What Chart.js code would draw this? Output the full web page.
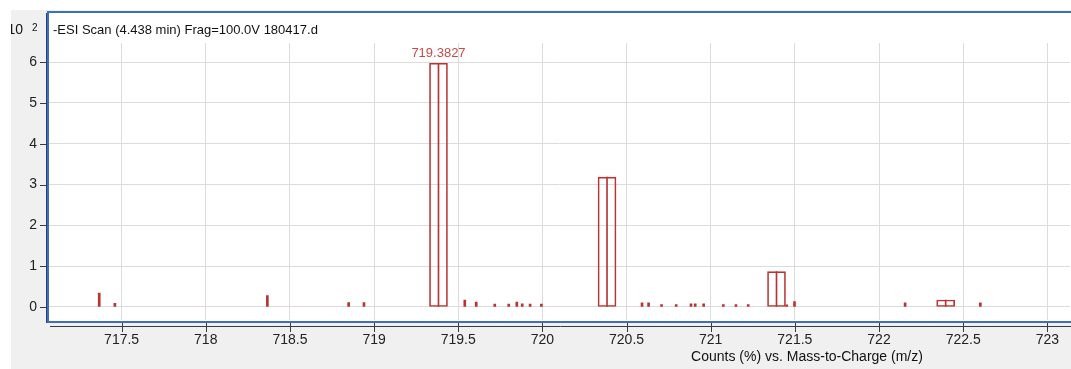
<!DOCTYPE html>
<html>
<head>
<meta charset="utf-8">
<script src="https://cdn.jsdelivr.net/npm/chart.js@4.4.1/dist/chart.umd.min.js"></script>
<style>
  html, body { margin: 0; padding: 0; background: #fff; }
  #wrap { width: 1071px; height: 369px; position: relative; }
</style>
</head>
<body>
<div id="wrap"><canvas id="spectrum"></canvas></div>
<script>
// Spectrum data - m/z and counts (x10^2)
const boxMz = [719.3827, 720.384, 721.391, 722.396];
const boxCounts = [5.97, 3.18, 0.865, 0.17];

const stickMz = [717.367, 717.46, 718.366, 718.849, 718.94, 719.539, 719.607, 719.717, 719.800,
                 719.848, 719.880, 719.927, 719.994, 720.592, 720.631, 720.708, 720.795, 720.883,
                 720.908, 720.958, 721.075, 721.150, 721.223, 721.452, 721.498, 722.155, 722.602];
const stickCounts = [0.34, 0.09, 0.28, 0.11, 0.11, 0.17, 0.12, 0.07, 0.07,
                     0.12, 0.08, 0.07, 0.07, 0.10, 0.10, 0.06, 0.06, 0.08,
                     0.08, 0.08, 0.06, 0.06, 0.06, 0.05, 0.13, 0.10, 0.10];

const xTickValues = [717.5, 718, 718.5, 719, 719.5, 720, 720.5, 721, 721.5, 722, 722.5, 723];
const xTickLabels = ['717.5', '718', '718.5', '719', '719.5', '720', '720.5', '721', '721.5', '722', '722.5', '723'];
const yTickValues = [0, 1, 2, 3, 4, 5, 6];
const yTickLabels = ['0', '1', '2', '3', '4', '5', '6'];

const peakLabelMz = [719.3827];
const peakLabelCounts = [5.97];
const peakLabelText = ['719.3827'];

const scanTitle = '-ESI Scan (4.438 min) Frag=100.0V 180417.d';
const xAxisTitle = 'Counts (%) vs. Mass-to-Charge (m/z)';
const yScaleText = 'x10';
const yScaleExp = '2';

const RED = '#b83434';
const FONT = "'Liberation Sans', Arial, sans-serif";

// Frame, axes and texts around the plot
const frame = {
    id: 'frame',
    beforeDraw(chart) {
        const ctx = chart.ctx, a = chart.chartArea, w = chart.width, h = chart.height;
        ctx.save();
        ctx.fillStyle = '#ffffff';
        ctx.fillRect(0, 0, w, h);
        ctx.fillStyle = '#f0f0f0';
        ctx.fillRect(11, 10, w - 11, h - 10);
        ctx.fillStyle = '#ffffff';
        ctx.fillRect(a.left, a.top - 30, w - a.left, a.bottom + 2 - (a.top - 30));
        ctx.restore();
    },
    afterDraw(chart) {
        const ctx = chart.ctx, a = chart.chartArea, w = chart.width;
        const xs = chart.scales.x, ys = chart.scales.y;
        ctx.save();
        // blue frame
        ctx.fillStyle = '#3f6fb6';
        ctx.fillRect(a.left - 2, a.top - 32, w - a.left + 2, 2);
        ctx.fillRect(a.left - 2, a.top - 32, 2, a.bottom + 3 - (a.top - 32));
        ctx.fillRect(a.left - 2, a.bottom + 1, w - a.left + 2, 2);
        ctx.fillStyle = '#23447a';
        ctx.fillRect(a.left - 3, a.top - 30, 1, a.bottom + 3 - (a.top - 30));
        // axis lines and tick marks
        ctx.strokeStyle = '#3a3a3a';
        ctx.lineWidth = 1;
        ctx.beginPath();
        ctx.moveTo(a.left + 1, a.bottom + 6.5);
        ctx.lineTo(w, a.bottom + 6.5);
        xs.ticks.forEach((t, i) => {
            const px = Math.round(xs.getPixelForTick(i)) + 0.5;
            ctx.moveTo(px, a.bottom + 3);
            ctx.lineTo(px, a.bottom + 12);
        });
        ys.ticks.forEach((t, i) => {
            const py = Math.round(ys.getPixelForTick(i)) + 0.5;
            ctx.moveTo(a.left - 9, py);
            ctx.lineTo(a.left - 2, py);
        });
        ctx.stroke();
        // texts
        ctx.fillStyle = '#111';
        ctx.textBaseline = 'middle';
        ctx.font = '13px ' + FONT;
        ctx.textAlign = 'left';
        ctx.fillText(scanTitle, a.left + 4, a.top - 13);
        ctx.font = '14px ' + FONT;
        ctx.textAlign = 'center';
        ctx.fillText(xAxisTitle, 807, 357);
        ctx.save();
        ctx.beginPath();
        ctx.rect(11, 10, a.left - 13, 40);
        ctx.clip();
        ctx.textAlign = 'right';
        ctx.fillText(yScaleText, 23, 30);
        ctx.font = '10px ' + FONT;
        ctx.textAlign = 'left';
        ctx.fillText(yScaleExp, 32, 28);
        ctx.restore();
        // peak labels
        ctx.fillStyle = '#c84a4a';
        ctx.font = '13px ' + FONT;
        ctx.textAlign = 'center';
        ctx.textBaseline = 'bottom';
        peakLabelMz.forEach((mz, i) => {
            ctx.fillText(peakLabelText[i], xs.getPixelForValue(mz), ys.getPixelForValue(peakLabelCounts[i]) - 3);
        });
        ctx.restore();
    }
};

const toPoints = (xv, yv) => xv.map((v, i) => ({x: v, y: yv[i]}));

new Chart(document.getElementById('spectrum'), {
    type: 'bar',
    data: {
        datasets: [{
            label: 'boxes',
            data: toPoints(boxMz, boxCounts),
            backgroundColor: 'rgba(255,255,255,0)',
            borderColor: RED,
            borderWidth: 1,
            borderSkipped: false,
            barThickness: 18,
            grouped: false
        }, {
            label: 'centres',
            data: toPoints(boxMz, boxCounts),
            backgroundColor: RED,
            borderWidth: 0,
            barThickness: 1,
            grouped: false
        }, {
            label: 'sticks',
            data: toPoints(stickMz, stickCounts),
            backgroundColor: RED,
            borderWidth: 0,
            barThickness: 2,
            grouped: false
        }]
    },
    options: {
        responsive: true,
        maintainAspectRatio: false,
        animation: false,
        layout: { padding: { top: 43, left: 0, right: 0, bottom: 0 } },
        plugins: {
            legend: { display: false },
            tooltip: { enabled: false }
        },
        scales: {
            x: {
                type: 'linear',
                min: 717.0686,
                max: 723.134,
                offset: false,
                grid: { color: '#dcdcdc', offset: false, drawTicks: false },
                border: { display: false },
                afterBuildTicks: (s) => { s.ticks = xTickValues.map(v => ({value: v})); },
                afterFit: (s) => { s.height = 49; },
                ticks: {
                    padding: 12,
                    maxRotation: 0,
                    autoSkip: false,
                    color: '#222',
                    font: { family: FONT, size: 14 },
                    callback: (v, i) => xTickLabels[i]
                }
            },
            y: {
                min: -0.319,
                max: 6.466,
                grid: { color: '#dcdcdc', drawTicks: false },
                border: { display: false },
                afterBuildTicks: (s) => { s.ticks = yTickValues.map(v => ({value: v})); },
                afterFit: (s) => { s.width = 49; },
                ticks: {
                    padding: 12,
                    color: '#222',
                    font: { family: FONT, size: 14 },
                    callback: (v, i) => yTickLabels[i]
                }
            }
        }
    },
    plugins: [frame]
});
</script>
</body>
</html>
